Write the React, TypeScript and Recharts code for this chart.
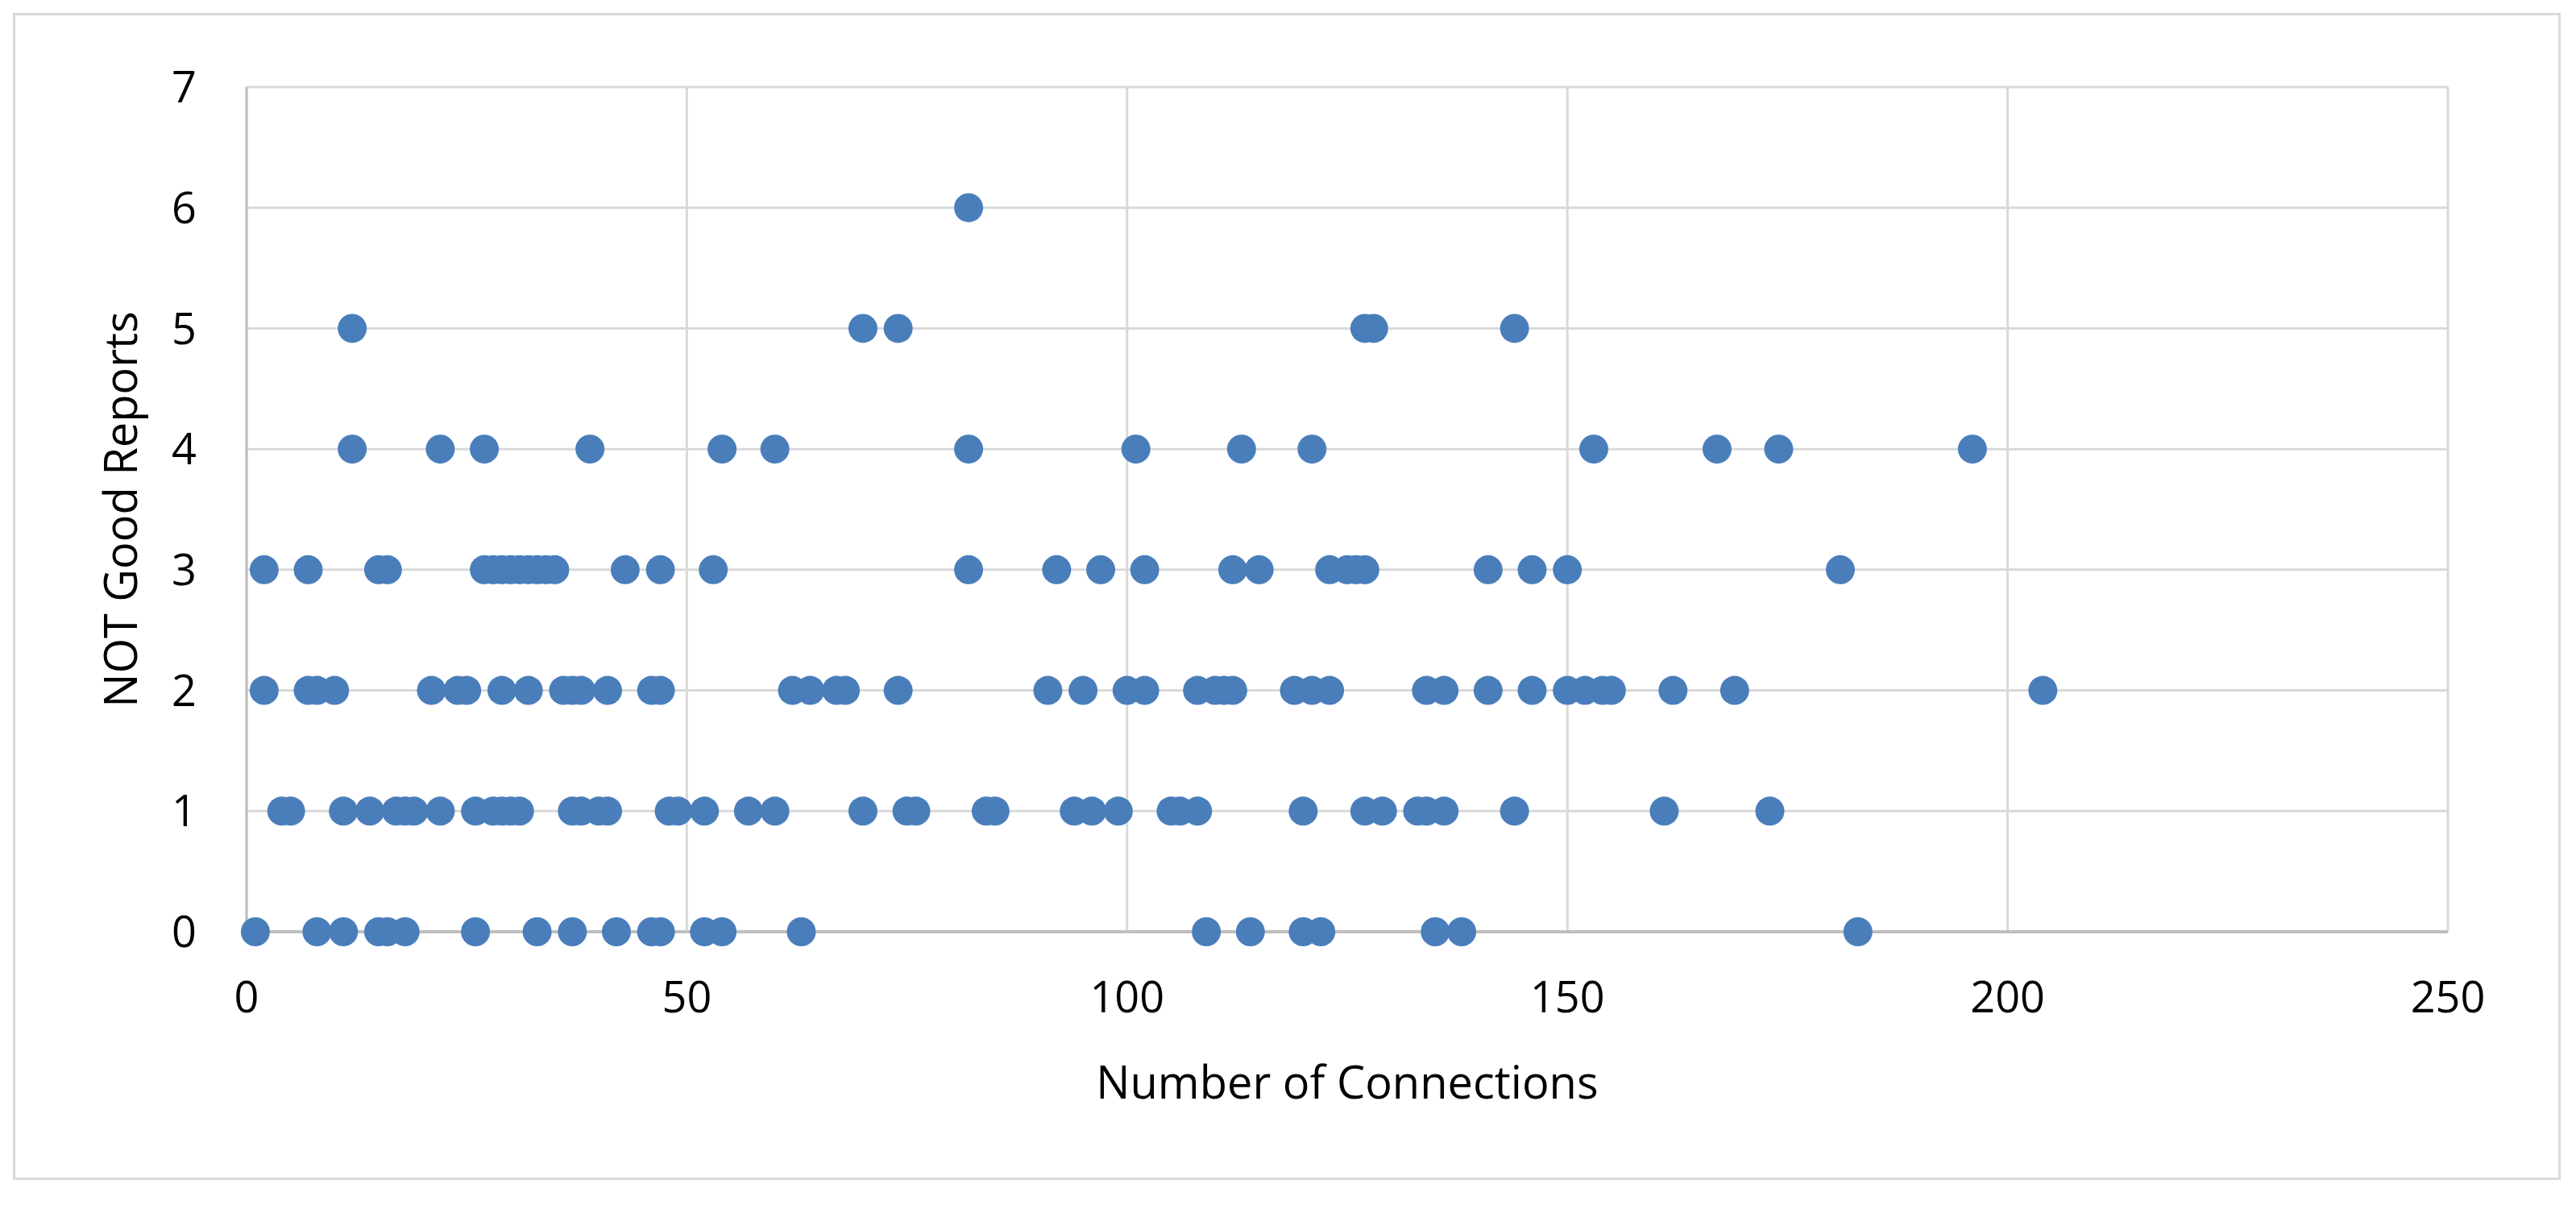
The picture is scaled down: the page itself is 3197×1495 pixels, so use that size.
import { ScatterChart, Scatter, XAxis, YAxis, CartesianGrid } from 'recharts';

// Number of connections for each count of NOT good reports
const reports0 = [1, 8, 11, 15, 16, 18, 26, 33, 37, 42, 46, 47, 52, 54, 63, 109, 114, 120, 122, 135, 138, 183];
const reports1 = [4, 5, 11, 14, 17, 18, 19, 22, 26, 28, 29, 30, 31, 37, 38, 40, 41, 48, 49, 52, 57, 60, 70, 75, 76, 84, 85, 94, 96, 99, 105, 106, 108, 120, 127, 129, 133, 134, 136, 144, 161, 173];
const reports2 = [2, 7, 8, 10, 21, 24, 25, 29, 32, 36, 37, 38, 41, 46, 47, 62, 64, 67, 68, 74, 91, 95, 100, 102, 108, 110, 111, 112, 119, 121, 123, 134, 136, 141, 146, 150, 152, 154, 155, 162, 169, 204];
const reports3 = [2, 7, 15, 16, 27, 28, 29, 30, 31, 32, 33, 34, 35, 43, 47, 53, 82, 92, 97, 102, 112, 115, 123, 125, 126, 127, 141, 146, 150, 181];
const reports4 = [12, 22, 27, 39, 54, 60, 82, 101, 113, 121, 153, 167, 174, 196];
const reports5 = [12, 70, 74, 127, 128, 144];
const reports6 = [82];

const xTicks = [0, 50, 100, 150, 200, 250];
const yTicks = [0, 1, 2, 3, 4, 5, 6, 7];

const rows = [reports0, reports1, reports2, reports3, reports4, reports5, reports6];
const points = rows.flatMap((xs, y) => xs.map(x => ({ x, y })));

const FONT = '"Open Sans", "Noto Sans", sans-serif';
const DOT = '#4a7ebb';

const Dot = (props: any) => <circle cx={props.cx} cy={props.cy} r={18} fill={DOT} />;

export default function App() {
  return (
    <div style={{ position: 'absolute', left: 0, top: 0, width: 3197, height: 1495, background: '#fff' }}>
      <div
        style={{
          position: 'absolute', left: 16, top: 16, width: 3156, height: 1442,
          border: '3px solid #d9d9d9',
        }}
      />
      <ScatterChart
        width={3197}
        height={1495}
        margin={{ top: 108, right: 159, bottom: 129, left: 0 }}
        style={{ position: 'absolute', left: 0, top: 0, fontFamily: FONT }}
      >
        <CartesianGrid stroke="#d9d9d9" strokeWidth={3} />
        <XAxis
          type="number"
          dataKey="x"
          domain={[0, 250]}
          ticks={xTicks}
          height={210}
          tickSize={0}
          tickMargin={62}
          axisLine={{ stroke: '#bfbfbf', strokeWidth: 4 }}
          tick={{ fontSize: 54, fill: '#000' }}
          label={{ value: 'Number of Connections', position: 'insideBottom', offset: 3, fontSize: 56, fill: '#000' }}
        />
        <YAxis
          type="number"
          dataKey="y"
          domain={[0, 7]}
          ticks={yTicks}
          width={306}
          tickSize={0}
          tickMargin={62}
          axisLine={{ stroke: '#bfbfbf', strokeWidth: 3 }}
          tick={{ fontSize: 54, fill: '#000' }}
          label={{ value: 'NOT Good Reports', angle: -90, position: 'center', dx: -3, fontSize: 56, fill: '#000' }}
        />
        <Scatter data={points} fill={DOT} shape={Dot} isAnimationActive={false} />
      </ScatterChart>
    </div>
  );
}
